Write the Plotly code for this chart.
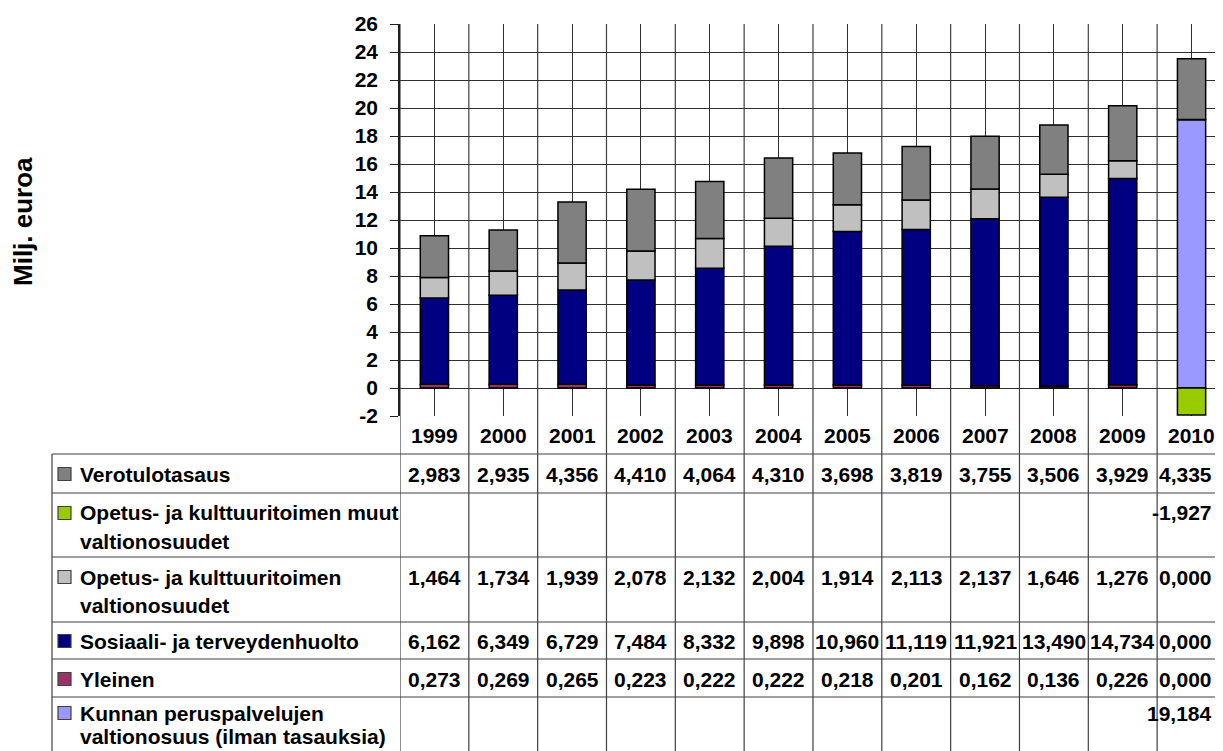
import plotly.graph_objects as go

# ---------------- data ----------------
years = [1999, 2000, 2001, 2002, 2003, 2004, 2005, 2006, 2007, 2008, 2009, 2010]
verotulotasaus = [2.983, 2.935, 4.356, 4.410, 4.064, 4.310, 3.698, 3.819, 3.755, 3.506, 3.929, 4.335]
opetus_muut = [None, None, None, None, None, None, None, None, None, None, None, -1.927]
opetus = [1.464, 1.734, 1.939, 2.078, 2.132, 2.004, 1.914, 2.113, 2.137, 1.646, 1.276, 0.000]
sosiaali = [6.162, 6.349, 6.729, 7.484, 8.332, 9.898, 10.960, 11.119, 11.921, 13.490, 14.734, 0.000]
yleinen = [0.273, 0.269, 0.265, 0.223, 0.222, 0.222, 0.218, 0.201, 0.162, 0.136, 0.226, 0.000]
kunnan = [None, None, None, None, None, None, None, None, None, None, None, 19.184]
y_ticks = [-2, 0, 2, 4, 6, 8, 10, 12, 14, 16, 18, 20, 22, 24, 26]

series_names = {
    "vero": ["Verotulotasaus"],
    "muut": ["Opetus- ja kulttuuritoimen muut", "valtionosuudet"],
    "opetus": ["Opetus- ja kulttuuritoimen", "valtionosuudet"],
    "sos": ["Sosiaali- ja terveydenhuolto"],
    "yle": ["Yleinen"],
    "kun": ["Kunnan peruspalvelujen", "valtionosuus (ilman tasauksia)"],
}
series_values = {
    "vero": verotulotasaus, "muut": opetus_muut, "opetus": opetus,
    "sos": sosiaali, "yle": yleinen, "kun": kunnan,
}
colors = {
    "vero": "#808080", "muut": "#99CC00", "opetus": "#C0C0C0",
    "sos": "#000080", "yle": "#993366", "kun": "#9999FF",
}
stack_order = ["kun", "yle", "sos", "opetus", "muut", "vero"]   # bottom -> top
table_order = ["vero", "muut", "opetus", "sos", "yle", "kun"]   # top -> bottom
y_title = "Milj. euroa"

# ---------------- layout geometry (pixels, page coordinates) ----------------
OFF = 8                            # default body margin of the html page
PAGE_W, PAGE_H = 1223, 751
W, H = PAGE_W - OFF, PAGE_H - OFF  # figure size
PL, PT, PB = 400, 24, 416          # plot left, top, bottom (page px)
PR = PAGE_W
VIS_R = 1214                       # right-most visible pixel for text
COLW = 68.83
HEADER_BOTTOM = 454
row_edges = [454, 493, 557, 622, 659, 697, 760]
row_first_line = [474, 513, 577, 641, 679, 713]
row_line_h = [28, 28, 28, 28, 28, 23]
TABLE_LEFT = 52
FONT = dict(family="Arial, Liberation Sans, sans-serif", size=21, color="black", weight="bold")

plot_h = PB - PT
plot_w = PR - PL


def py(Y):  # page pixel y -> paper y
    return (PB - Y) / plot_h


def px(X):  # page pixel x -> paper x
    return (X - PL) / plot_w


xs = list(range(len(years)))
fig = go.Figure()
for key in stack_order:
    fig.add_trace(go.Bar(
        x=xs, y=series_values[key], name=" ".join(series_names[key]),
        marker=dict(color=colors[key], line=dict(color="black", width=1.5)),
        width=0.41, showlegend=False,
    ))

shapes = []
annotations = []
LINEC = "#404040"

# column boundaries (through plot and table)
for i in range(len(years) + 1):
    shapes.append(dict(type="line", xref="x", yref="paper", x0=i - 0.5, x1=i - 0.5,
                       y0=1, y1=py(PAGE_H + 10), line=dict(color=LINEC, width=1.2), layer="below"))
# table horizontal lines
for Y in row_edges[:-1]:
    shapes.append(dict(type="line", xref="paper", yref="paper", x0=px(TABLE_LEFT), x1=1.02,
                       y0=py(Y), y1=py(Y), line=dict(color=LINEC, width=1.2)))
# table left border
shapes.append(dict(type="line", xref="paper", yref="paper", x0=px(TABLE_LEFT), x1=px(TABLE_LEFT),
                   y0=py(HEADER_BOTTOM), y1=py(PAGE_H + 10), line=dict(color=LINEC, width=1.2)))

# header years
for i, yr in enumerate(years):
    annotations.append(dict(x=i, xref="x", y=py((PB + HEADER_BOTTOM) / 2), yref="paper",
                            text=str(yr), showarrow=False, font=FONT,
                            xanchor="center", yanchor="middle"))


def fmt(v):
    return f"{v:.3f}".replace(".", ",")


last = len(years) - 1
# table rows
for r, key in enumerate(table_order):
    y0 = row_first_line[r]
    lines = series_names[key]
    shapes.append(dict(type="rect", xref="paper", yref="paper",
                       x0=px(58), x1=px(71), y0=py(y0 - 6.5), y1=py(y0 + 6.5),
                       fillcolor=colors[key], line=dict(color=LINEC, width=1.2)))
    for k, ln in enumerate(lines):
        annotations.append(dict(x=px(78), xref="paper", y=py(y0 + k * row_line_h[r]), yref="paper",
                                text=ln, showarrow=False, font=FONT,
                                xanchor="left", yanchor="middle"))
    for i, v in enumerate(series_values[key]):
        if v is None:
            continue
        if i == last:
            annotations.append(dict(x=px(VIS_R), xref="paper", y=py(y0), yref="paper",
                                    text=fmt(v), showarrow=False, font=FONT,
                                    xanchor="right", yanchor="middle"))
        else:
            annotations.append(dict(x=i, xref="x", y=py(y0), yref="paper",
                                    text=fmt(v), showarrow=False, font=FONT,
                                    xanchor="center", yanchor="middle"))

# y axis title
annotations.append(dict(x=px(23), xref="paper", y=py(222), yref="paper", text=y_title,
                        textangle=-90, showarrow=False,
                        font=dict(family=FONT["family"], size=26, color="black", weight="bold"),
                        xanchor="center", yanchor="middle"))

fig.update_layout(
    width=W, height=H,
    margin=dict(l=PL - OFF, r=PAGE_W - PR, t=PT - OFF, b=PAGE_H - PB, pad=0),
    barmode="relative",
    plot_bgcolor="white", paper_bgcolor="white",
    shapes=shapes, annotations=annotations,
    xaxis=dict(range=[-0.5, -0.5 + plot_w / COLW], tickvals=xs, showticklabels=False,
               showgrid=True, gridcolor="#303030", gridwidth=1, ticks="",
               zeroline=False, showline=False, fixedrange=True),
    yaxis=dict(range=[-2, 26], tickvals=y_ticks, ticktext=[str(t) for t in y_ticks],
               showgrid=True, gridcolor="#303030", gridwidth=1,
               zeroline=True, zerolinecolor="#303030", zerolinewidth=1,
               showline=True, linecolor="#202020", linewidth=1.5,
               ticks="outside", ticklen=8, tickcolor="#202020", tickwidth=1.2,
               ticklabelstandoff=8,
               tickfont=FONT, fixedrange=True),
    font=FONT,
)

fig.write_html("out.html")
